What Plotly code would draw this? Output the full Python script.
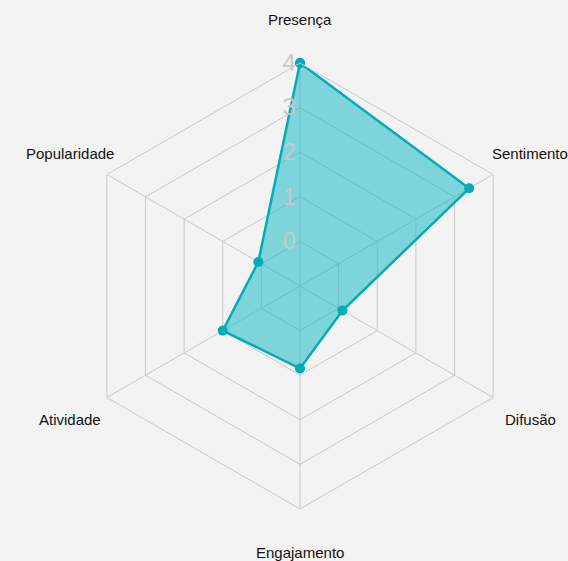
import math
import plotly.graph_objects as go

# dados do radar
categorias = ['Presença', 'Sentimento', 'Difusão', 'Engajamento', 'Atividade', 'Popularidade']
valores = [4.0, 3.38, 0.1, 0.85, 1.0, 0.08]
ticks_radiais = [0, 1, 2, 3, 4]

W, H = 568, 561
cx, cy = 300, 286      # centro do radar (px)
raio = 223             # raio externo (px)
raio_rot = 266         # distância dos rótulos das categorias (px)
base = -1              # o centro do radar corresponde a -1

cinza = '#c8c8c8'
teal = '#03abb7'

# o plotly esconde marcadores perto do centro quando o eixo começa em valor negativo,
# então desloco tudo para começar em 0 e reescrevo os rótulos dos ticks
r_plot = [v - base for v in valores]

fig = go.Figure()
fig.add_trace(go.Scatterpolar(
    r=r_plot + [r_plot[0]],
    theta=categorias + [categorias[0]],
    mode='lines+markers',
    fill='toself',
    fillcolor='rgba(8,182,194,0.5)',
    line=dict(color=teal, width=2.5),
    marker=dict(color=teal, size=10),
    customdata=valores + [valores[0]],
    hovertemplate='%{theta}: %{customdata}<extra></extra>',
    showlegend=False
))

# rótulos das categorias um pouco afastados do hexágono
anotacoes = []
for i, nome in enumerate(categorias):
    ang = math.radians(90 - 360 / len(categorias) * i)
    anotacoes.append(dict(
        text=nome, showarrow=False, xref='paper', yref='paper',
        x=(cx + raio_rot * math.cos(ang)) / W,
        y=(H - cy + raio_rot * math.sin(ang)) / H,
        xanchor='center', yanchor='middle',
        font=dict(size=15, color='#111')
    ))

fig.update_layout(
    width=W, height=H,
    margin=dict(l=0, r=0, t=0, b=0),
    paper_bgcolor='#f3f3f3',
    font=dict(family='Liberation Sans, Arial, sans-serif', color='#111', size=14),
    annotations=anotacoes,
    polar=dict(
        domain=dict(x=[(cx - raio) / W, (cx + raio) / W],
                    y=[(H - cy - raio) / H, (H - cy + raio) / H]),
        bgcolor='#f3f3f3',
        gridshape='linear',
        radialaxis=dict(
            range=[0, max(ticks_radiais) - base],
            tickvals=[t - base for t in ticks_radiais],
            ticktext=[str(t) for t in ticks_radiais],
            angle=90, tickangle=90, side='counterclockwise',
            showline=False, gridcolor=cinza, gridwidth=1,
            tickfont=dict(size=24, color=cinza), ticks=''
        ),
        angularaxis=dict(
            rotation=90, direction='clockwise',
            showticklabels=False, ticks='',
            gridcolor=cinza, linecolor=cinza, showline=True
        ),
    ),
)

fig.write_html('out.html', config={'displayModeBar': False},
               post_script="document.body.style.margin='0';document.body.style.background='#f3f3f3';")
